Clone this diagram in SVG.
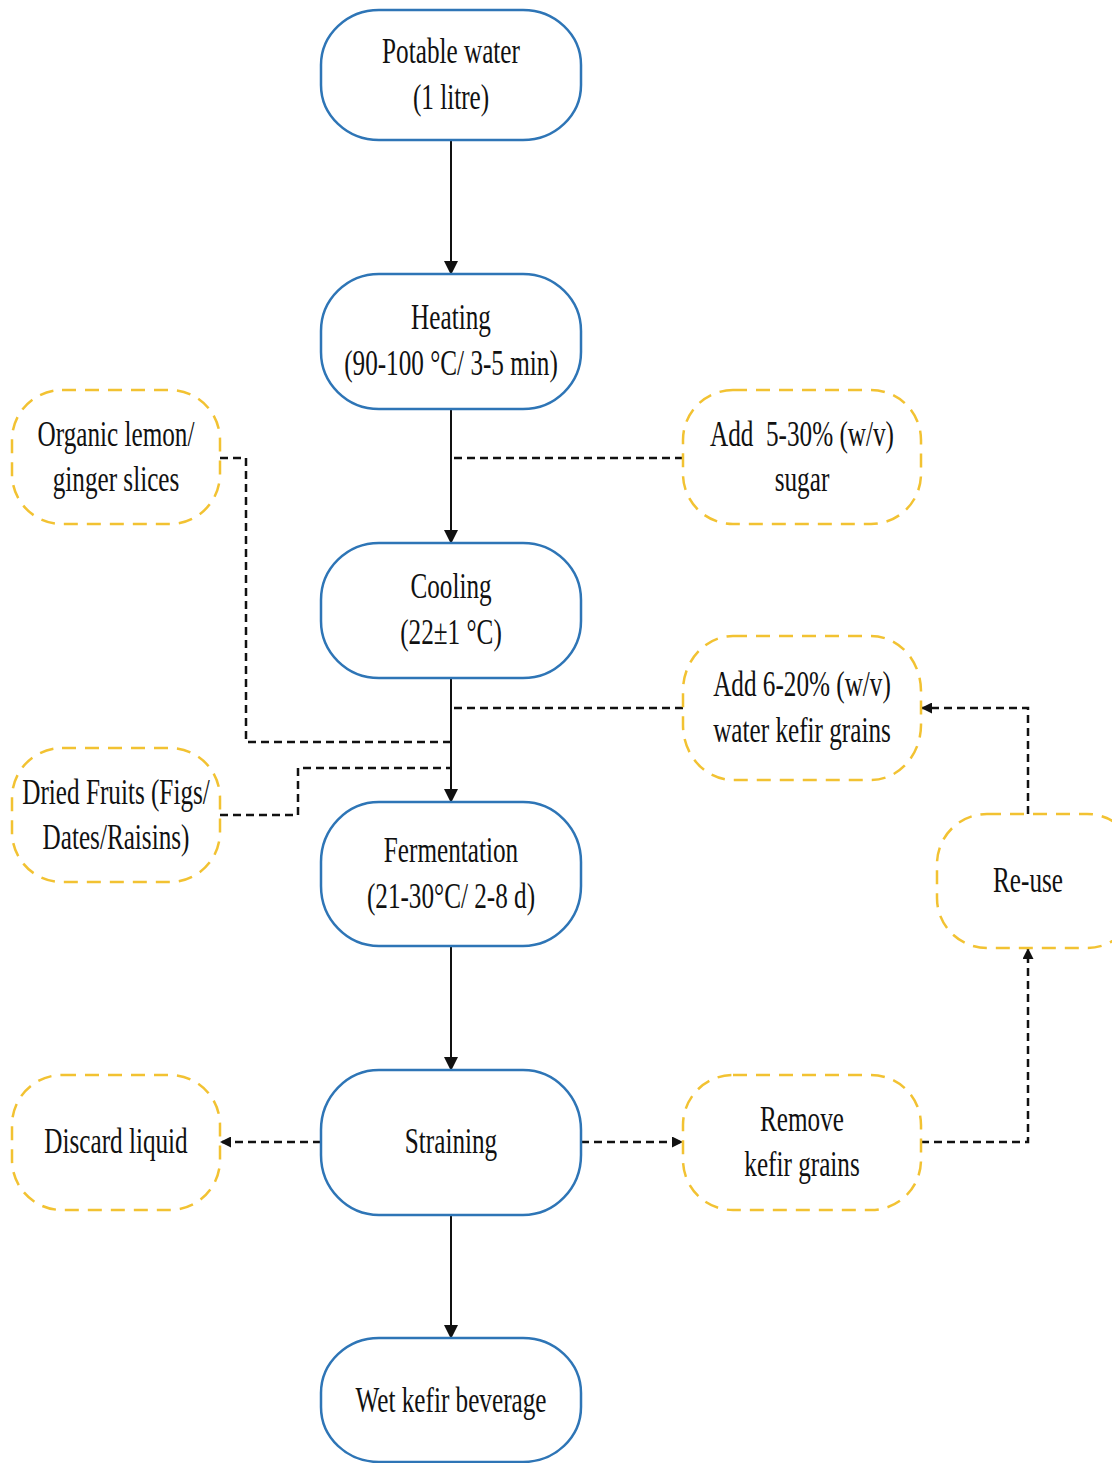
<svg xmlns="http://www.w3.org/2000/svg" width="1112" height="1463" viewBox="0 0 1112 1463">
<style>
.proc{fill:#fff;stroke:#2E75B6;stroke-width:2.5}
.add{fill:#fff;stroke:#F2C232;stroke-width:2.5;stroke-dasharray:14 9}
.t{font-family:'Liberation Serif','DejaVu Serif',serif;font-size:36px;fill:#111;text-anchor:middle}
.solid{fill:none;stroke:#111;stroke-width:2}
.dash{fill:none;stroke:#111;stroke-width:2.5;stroke-dasharray:8 5}
</style>
<defs>
<marker id="ah" markerWidth="14" markerHeight="14" refX="12" refY="7" orient="auto" markerUnits="userSpaceOnUse">
<path d="M0,0 L14,7 L0,14 Z" fill="#111"/>
</marker>
<marker id="ahs" markerWidth="11" markerHeight="11" refX="10" refY="5.5" orient="auto" markerUnits="userSpaceOnUse">
<path d="M0,0 L11,5.5 L0,11 Z" fill="#111"/>
</marker>
</defs>
<rect width="1112" height="1463" fill="#fff"/>

<g id="connectors">
<line class="solid" x1="451" y1="140" x2="451" y2="273" marker-end="url(#ah)"/>
<line class="solid" x1="451" y1="409" x2="451" y2="542" marker-end="url(#ah)"/>
<line class="solid" x1="451" y1="678" x2="451" y2="801" marker-end="url(#ah)"/>
<line class="solid" x1="451" y1="946" x2="451" y2="1069" marker-end="url(#ah)"/>
<line class="solid" x1="451" y1="1215" x2="451" y2="1337" marker-end="url(#ah)"/>
<polyline class="dash" points="683,458 451,458"/>
<polyline class="dash" points="220,458 246,458 246,742 451,742"/>
<polyline class="dash" points="220,815 298,815 298,768 451,768"/>
<polyline class="dash" points="683,708 451,708"/>
<polyline class="dash" points="1028,814 1028,708 922,708" marker-end="url(#ahs)"/>
<polyline class="dash" points="921,1142 1028,1142 1028,949" marker-end="url(#ahs)"/>
<polyline class="dash" points="321,1142 221,1142" marker-end="url(#ahs)"/>
<polyline class="dash" points="581,1142 682,1142" marker-end="url(#ahs)"/>
</g>

<g id="potable">
<rect class="proc" x="321" y="10" width="260" height="130" rx="58" ry="55"/>
<text class="t" font-family="Liberation Serif, serif" transform="translate(451,63) scale(0.7 1)">Potable water</text>
<text class="t" font-family="Liberation Serif, serif" transform="translate(451,109) scale(0.7 1)">(1 litre)</text>
</g>
<g id="heating">
<rect class="proc" x="321" y="274" width="260" height="135" rx="58" ry="57"/>
<text class="t" font-family="Liberation Serif, serif" transform="translate(451,329) scale(0.7 1)">Heating</text>
<text class="t" font-family="Liberation Serif, serif" transform="translate(451,375) scale(0.7 1)">(90-100 °C/ 3-5 min)</text>
</g>
<g id="cooling">
<rect class="proc" x="321" y="543" width="260" height="135" rx="58" ry="57"/>
<text class="t" font-family="Liberation Serif, serif" transform="translate(451,598) scale(0.7 1)">Cooling</text>
<text class="t" font-family="Liberation Serif, serif" transform="translate(451,644) scale(0.7 1)">(22±1 °C)</text>
</g>
<g id="fermentation">
<rect class="proc" x="321" y="802" width="260" height="144" rx="58" ry="60"/>
<text class="t" font-family="Liberation Serif, serif" transform="translate(451,862) scale(0.7 1)">Fermentation</text>
<text class="t" font-family="Liberation Serif, serif" transform="translate(451,908) scale(0.7 1)">(21-30°C/ 2-8 d)</text>
</g>
<g id="straining">
<rect class="proc" x="321" y="1070" width="260" height="145" rx="58" ry="60"/>
<text class="t" font-family="Liberation Serif, serif" transform="translate(451,1153) scale(0.7 1)">Straining</text>
</g>
<g id="wet">
<rect class="proc" x="321" y="1338" width="260" height="124" rx="58" ry="55"/>
<text class="t" font-family="Liberation Serif, serif" transform="translate(451,1412) scale(0.7 1)">Wet kefir beverage</text>
</g>

<g id="lemon">
<rect class="add" x="12" y="390" width="208" height="134" rx="50" ry="50"/>
<text class="t" font-family="Liberation Serif, serif" transform="translate(116,446) scale(0.7 1)">Organic lemon/</text>
<text class="t" font-family="Liberation Serif, serif" transform="translate(116,491) scale(0.7 1)">ginger slices</text>
</g>
<g id="sugar">
<rect class="add" x="683" y="390" width="238" height="134" rx="50" ry="50"/>
<text class="t" font-family="Liberation Serif, serif" transform="translate(802,446) scale(0.7 1)">Add&#160; 5-30% (w/v)</text>
<text class="t" font-family="Liberation Serif, serif" transform="translate(802,491) scale(0.7 1)">sugar</text>
</g>
<g id="grains">
<rect class="add" x="683" y="636" width="238" height="144" rx="50" ry="55"/>
<text class="t" font-family="Liberation Serif, serif" transform="translate(802,696) scale(0.7 1)">Add 6-20% (w/v)</text>
<text class="t" font-family="Liberation Serif, serif" transform="translate(802,742) scale(0.7 1)">water kefir grains</text>
</g>
<g id="dried">
<rect class="add" x="12" y="748" width="208" height="134" rx="50" ry="50"/>
<text class="t" font-family="Liberation Serif, serif" transform="translate(116,804) scale(0.7 1)">Dried Fruits (Figs/</text>
<text class="t" font-family="Liberation Serif, serif" transform="translate(116,849) scale(0.7 1)">Dates/Raisins)</text>
</g>
<g id="reuse">
<rect class="add" x="937" y="814" width="200" height="134" rx="50" ry="50"/>
<text class="t" font-family="Liberation Serif, serif" transform="translate(1028,892) scale(0.7 1)">Re-use</text>
</g>
<g id="discard">
<rect class="add" x="12" y="1075" width="208" height="135" rx="50" ry="50"/>
<text class="t" font-family="Liberation Serif, serif" transform="translate(116,1153) scale(0.7 1)">Discard liquid</text>
</g>
<g id="remove">
<rect class="add" x="683" y="1075" width="238" height="135" rx="50" ry="50"/>
<text class="t" font-family="Liberation Serif, serif" transform="translate(802,1131) scale(0.7 1)">Remove</text>
<text class="t" font-family="Liberation Serif, serif" transform="translate(802,1176) scale(0.7 1)">kefir grains</text>
</g>
</svg>
